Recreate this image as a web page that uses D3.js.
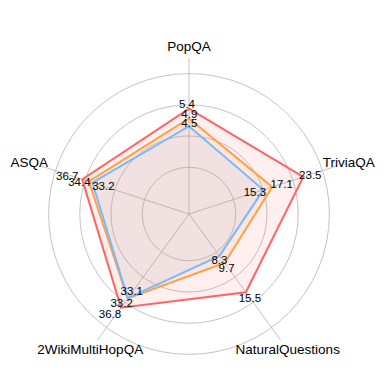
<!DOCTYPE html>
<html>
<head>
<meta charset="utf-8">
<script src="https://cdn.jsdelivr.net/npm/d3@7"></script>
<style>
  body { margin: 0; background: #fff; }
  text { font-family: "Liberation Sans", Arial, sans-serif; }
</style>
</head>
<body>
<svg id="chart" width="392" height="392"></svg>
<script>
const width = 392;
const height = 392;

// axes, clockwise from the top
const categories = ["PopQA", "TriviaQA", "NaturalQuestions", "2WikiMultiHopQA", "ASQA"];
// scale top for each axis (value that would reach the axis end)
const axisMax = [8, 30.5, 25, 49.6, 51];

const seriesRed = [5.4, 23.5, 15.5, 36.8, 36.7];
const seriesOrange = [4.9, 17.1, 9.7, 33.2, 34.4];
const seriesBlue = [4.5, 15.3, 8.3, 33.1, 33.2];

const ringLevels = [0.3, 0.5, 0.7, 0.9];

const cx = 189, cy = 214;
const R = 156;

const series = [
  { values: seriesRed, color: "#ff6464" },
  { values: seriesOrange, color: "#ffa042" },
  { values: seriesBlue, color: "#78baff" }
];

// nudges for the value labels so they don't sit on top of each other
const labelNudge = [
  [[-2, -5], [7, -2], [4, 5.5], [-11, 6.7], [-15, -3.6]],
  [[0.3, -4.2], [9.5, -3], [2, 5.3], [-6, 4.8], [-9.5, 0.2]],
  [[0.3, -3], [-8.5, 2.5], [0, 4.1], [4, -7.2], [11, 3.4]]
];

const svg = d3.select("#chart")
  .attr("viewBox", [0, 0, width, height]);

const angle = d3.scalePoint()
  .domain(categories)
  .range([0, 2 * Math.PI * (categories.length - 1) / categories.length]);

const rScales = categories.map((c, i) => d3.scaleLinear().domain([0, axisMax[i]]).range([0, R]));
const ring = d3.scaleLinear().domain([0, 1]).range([0, R]);

function pt(a, r) {
  return [cx + Math.sin(a) * r, cy - Math.cos(a) * r];
}

const g = svg.append("g");

// rings
g.append("g")
  .selectAll("circle")
  .data(ringLevels)
  .join("circle")
    .attr("cx", cx)
    .attr("cy", cy)
    .attr("r", d => ring(d))
    .attr("fill", "none")
    .attr("stroke", "#b4b4b4")
    .attr("stroke-width", 0.8);

// spokes
g.append("g")
  .selectAll("line")
  .data(categories)
  .join("line")
    .attr("x1", cx)
    .attr("y1", cy)
    .attr("x2", d => pt(angle(d), R)[0])
    .attr("y2", d => pt(angle(d), R)[1])
    .attr("stroke", "#b4b4b4")
    .attr("stroke-width", 0.8);

const line = d3.line().curve(d3.curveLinearClosed);

const points = series.map(s => s.values.map((v, i) => pt(angle(categories[i]), rScales[i](v))));

g.append("g")
  .selectAll("path")
  .data(series)
  .join("path")
    .attr("d", (s, k) => line(points[k]))
    .attr("fill", s => s.color)
    .attr("fill-opacity", 0.1)
    .attr("stroke", s => s.color)
    .attr("stroke-width", 2)
    .attr("stroke-linejoin", "miter");

// value labels
series.forEach((s, k) => {
  g.append("g")
    .selectAll("text")
    .data(s.values)
    .join("text")
      .attr("x", (v, i) => points[k][i][0] + labelNudge[k][i][0])
      .attr("y", (v, i) => points[k][i][1] + labelNudge[k][i][1])
      .attr("text-anchor", "middle")
      .attr("dominant-baseline", "central")
      .attr("font-size", 11.5)
      .attr("fill", "#000")
      .text(v => v.toFixed(1));
});

// axis names
g.append("g")
  .selectAll("text")
  .data(categories)
  .join("text")
    .attr("x", d => pt(angle(d), R + 12)[0])
    .attr("y", d => pt(angle(d), R + 12)[1])
    .attr("text-anchor", "middle")
    .attr("dominant-baseline", "central")
    .attr("font-size", 13.5)
    .attr("fill", "#000")
    .text(d => d);
</script>
</body>
</html>
